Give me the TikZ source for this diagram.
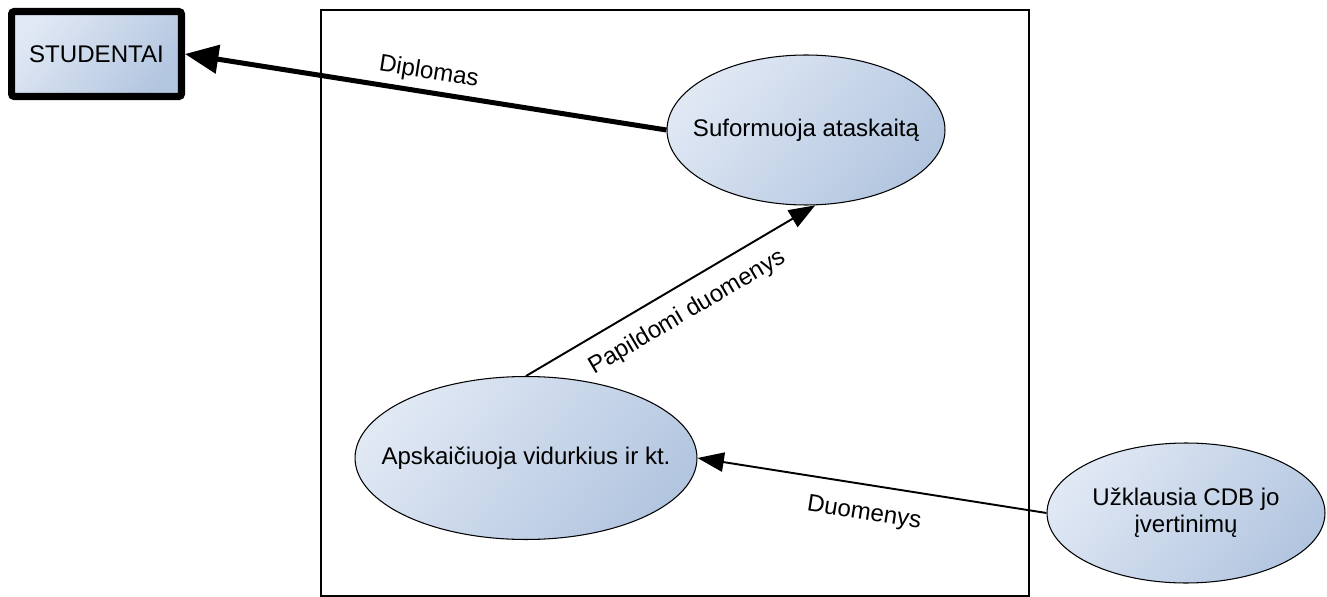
\documentclass[tikz,border=0pt]{standalone}
\usepackage{fontspec}
\setmainfont{Liberation Sans}
\usetikzlibrary{shapes.geometric,arrows.meta}
\definecolor{procTop}{HTML}{E0E8F4}
\definecolor{procBot}{HTML}{B3C6E0}
\tikzset{
  proc/.style={ellipse, draw=black, line width=0.6pt, top color=procTop, bottom color=procBot, shading angle=50, align=center, inner xsep=-20pt, inner ysep=0pt, font=\fontsize{13.7}{15.5}\selectfont},
  extent/.style={rectangle, draw=black, line width=4pt, rounded corners=1.5pt, top color=procTop, bottom color=procBot, shading angle=50, font=\fontsize{13.7}{15.5}\selectfont},
  flow/.style={line width=1.1pt, -{Triangle[length=15pt, width=11pt]}},
  lbl/.style={font=\fontsize{13.7}{15.5}\selectfont, sloped}
}
\begin{document}
\begin{tikzpicture}[x=0.02cm, y=-0.02cm]
    \useasboundingbox (0,0) rectangle (1327,597);
    \draw[line width=1.1pt] (321,10) rectangle (1029,596);

    \node[extent, minimum width=3.4cm, minimum height=1.7cm] (studentai) at (96.5,54) {STUDENTAI};
    \node[proc, minimum width=5.56cm, minimum height=3cm] (ataskaita) at (806,130) {Suformuoja ataskaitą};
    \node[proc, minimum width=6.84cm, minimum height=3.26cm] (vidurkiai) at (526,458) {Apskaičiuoja vidurkius ir kt.};
    \node[proc, minimum width=5.56cm, minimum height=2.8cm] (uzklausa) at (1186,513) {Užklausia CDB jo\\įvertinimų};

    \draw[line width=2.85pt, -{Triangle[length=19pt, width=16pt]}] (ataskaita.west) -- node[lbl, above] (diplomas) {Diplomas} (studentai.east);
    \draw[flow] (vidurkiai.north) -- node[lbl, pos=0.51, below=5.5pt] (papildomi) {Papildomi duomenys} (ataskaita.-83);
    \draw[flow] (uzklausa.west) -- node[lbl, pos=0.51, below=6.5pt] (duomenys) {Duomenys} (vidurkiai.east);
\end{tikzpicture}
\end{document}
